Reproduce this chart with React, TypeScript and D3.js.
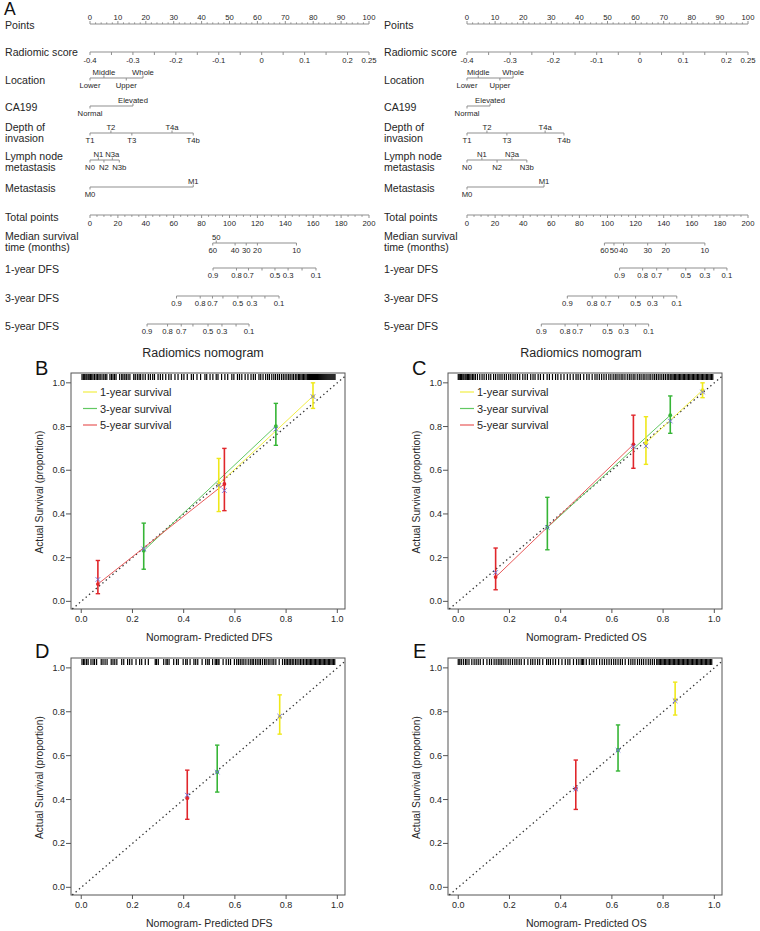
import React from 'react';
import * as d3 from 'd3';

const FONT = '"Liberation Sans", Arial, Helvetica, sans-serif';
const TXT = '#262626';
const AX = '#8f8f8f';

// ---------- Nomogram data ----------
const pointsLabels = [0, 10, 20, 30, 40, 50, 60, 70, 80, 90, 100];
const radiomicLabels = [-0.4, -0.3, -0.2, -0.1, 0, 0.1, 0.2, 0.25];
const totalLabels = [0, 20, 40, 60, 80, 100, 120, 140, 160, 180, 200];

const locationLevels = ['Lower', 'Middle', 'Upper', 'Whole'];
const locationPtsA = [0, 5, 13, 19];
const locationPtsB = [0, 4, 11.7, 16.4];
const ca199Levels = ['Normal', 'Elevated'];
const ca199PtsA = [0, 15.4];
const ca199PtsB = [0, 8.2];
const depthLevels = ['T1', 'T2', 'T3', 'T4a', 'T4b'];
const depthPtsA = [0, 7.5, 15, 29.4, 37];
const depthPtsB = [0, 7.1, 14.2, 27.8, 34.5];
const lymphLevels = ['N0', 'N1', 'N2', 'N3a', 'N3b'];
const lymphPtsA = [0, 3, 5, 8, 10.5];
const lymphPtsB = [0, 5.3, 10.7, 16, 21.3];
const metLevels = ['M0', 'M1'];
const metPtsA = [0, 37];
const metPtsB = [0, 27.4];

const medianLabels = ['60', '50', '40', '30', '20', '10'];
const medianTotA = [88, 90.5, 104, 112, 120, 148];
const medianTotB = [97.8, 104.6, 111.4, 128.6, 141.4, 169.3];
const medianAboveA = [false, true, false, false, false, false];
const medianAboveB = [false, false, false, false, false, false];

const dfsLabels = ['0.9', '0.8', '0.7', '0.6', '0.5', '0.3', '0.2', '0.1'];
const dfsShown = [true, true, true, false, true, true, false, true];
const dfs1TotA = [88.2, 105, 113.6, 123.3, 132.6, 142, 152, 162];
const dfs3TotA = [62, 79, 87.8, 95.3, 106, 116, 125.4, 135.5];
const dfs5TotA = [40.9, 55.6, 65.4, 73.8, 84.6, 94.6, 104.7, 114];
const dfs1TotB = [108.6, 125, 135, 143, 155.7, 169.3, 175.7, 185];
const dfs3TotB = [71.4, 89.1, 98.8, 107.9, 120, 132, 140, 149.3];
const dfs5TotB = [52.9, 69.8, 78.8, 87.9, 100, 111.4, 120, 129.3];

// ---------- Calibration data: [predicted, observed, lower, upper, corrected] ----------
const calB_1yr = [[0.537, 0.536, 0.411, 0.654, 0.531], [0.905, 0.939, 0.883, 1.0, 0.937]];
const calB_3yr = [[0.244, 0.232, 0.147, 0.358, 0.24], [0.76, 0.802, 0.714, 0.906, 0.788]];
const calB_5yr = [[0.065, 0.079, 0.035, 0.187, 0.1], [0.559, 0.537, 0.415, 0.7, 0.507]];
const calC_1yr = [[0.733, 0.725, 0.627, 0.845, 0.711], [0.954, 0.966, 0.932, 1.0, 0.958]];
const calC_3yr = [[0.348, 0.338, 0.236, 0.476, 0.338], [0.828, 0.852, 0.769, 0.94, 0.825]];
const calC_5yr = [[0.146, 0.111, 0.053, 0.244, 0.132], [0.684, 0.718, 0.609, 0.852, 0.708]];
const calD_1yr = [[0.775, 0.776, 0.698, 0.877, 0.78]];
const calD_3yr = [[0.531, 0.525, 0.434, 0.648, 0.525]];
const calD_5yr = [[0.414, 0.406, 0.31, 0.534, 0.42]];
const calE_1yr = [[0.847, 0.855, 0.785, 0.935, 0.85]];
const calE_3yr = [[0.624, 0.627, 0.53, 0.74, 0.625]];
const calE_5yr = [[0.459, 0.45, 0.355, 0.58, 0.448]];

const calTicks = [0, 0.2, 0.4, 0.6, 0.8, 1.0];
const legendLabels = ['1-year survival', '3-year survival', '5-year survival'];

const rugB = [0.003,0.008,0.012,0.018,0.022,0.027,0.031,0.036,0.041,0.046,0.052,0.058,0.063,0.069,0.074,0.081,0.088,0.094,0.1,0.112,0.118,0.124,0.13,0.136,0.15,0.158,0.163,0.17,0.176,0.183,0.19,0.205,0.211,0.219,0.226,0.232,0.241,0.25,0.262,0.27,0.279,0.286,0.3,0.309,0.318,0.33,0.342,0.351,0.366,0.378,0.392,0.401,0.414,0.43,0.438,0.452,0.466,0.483,0.49,0.503,0.514,0.527,0.534,0.548,0.561,0.572,0.588,0.596,0.61,0.618,0.627,0.64,0.651,0.663,0.672,0.68,0.694,0.701,0.71,0.72,0.728,0.735,0.744,0.752,0.759,0.767,0.774,0.782,0.789,0.796,0.803,0.81,0.816,0.823,0.829,0.836,0.842,0.848,0.853,0.858,0.863,0.868,0.873,0.878,0.883,0.887,0.891,0.895,0.899,0.903,0.907,0.911,0.915,0.919,0.923,0.927,0.931,0.935,0.939,0.943,0.947,0.951,0.955,0.959,0.963,0.967,0.971,0.975,0.979,0.983,0.987,0.991];
const rugC = [0.0,0.004,0.009,0.013,0.018,0.022,0.027,0.031,0.036,0.04,0.045,0.05,0.056,0.061,0.067,0.075,0.084,0.093,0.101,0.11,0.119,0.127,0.138,0.146,0.155,0.163,0.171,0.18,0.188,0.197,0.205,0.214,0.222,0.231,0.24,0.252,0.261,0.27,0.283,0.292,0.3,0.312,0.321,0.333,0.347,0.356,0.368,0.38,0.389,0.401,0.413,0.426,0.437,0.449,0.46,0.468,0.477,0.49,0.502,0.511,0.523,0.534,0.542,0.551,0.56,0.569,0.578,0.588,0.596,0.605,0.613,0.62,0.628,0.636,0.643,0.651,0.66,0.668,0.675,0.683,0.69,0.699,0.707,0.714,0.722,0.729,0.737,0.745,0.752,0.76,0.767,0.774,0.781,0.788,0.795,0.802,0.809,0.816,0.822,0.828,0.834,0.839,0.844,0.849,0.854,0.859,0.864,0.869,0.874,0.879,0.884,0.889,0.894,0.899,0.904,0.909,0.914,0.919,0.924,0.929,0.934,0.939,0.944,0.949,0.954,0.959,0.964,0.969,0.974,0.979,0.984,0.989,0.994];
const rugD = [0.003,0.009,0.014,0.021,0.027,0.038,0.046,0.052,0.06,0.078,0.085,0.093,0.101,0.117,0.124,0.131,0.139,0.158,0.166,0.181,0.189,0.198,0.214,0.228,0.236,0.25,0.262,0.289,0.294,0.301,0.322,0.331,0.336,0.343,0.361,0.372,0.379,0.398,0.408,0.414,0.425,0.44,0.447,0.455,0.472,0.486,0.494,0.5,0.513,0.523,0.528,0.534,0.538,0.554,0.566,0.575,0.583,0.598,0.607,0.614,0.621,0.628,0.635,0.643,0.652,0.66,0.667,0.672,0.68,0.687,0.694,0.7,0.708,0.716,0.722,0.73,0.737,0.745,0.752,0.76,0.773,0.786,0.794,0.8,0.806,0.812,0.818,0.824,0.83,0.837,0.843,0.85,0.856,0.862,0.868,0.874,0.88,0.885,0.89,0.895,0.9,0.905,0.91,0.915,0.92,0.925,0.93,0.935,0.94,0.945,0.95,0.955,0.96,0.965,0.97,0.975,0.98,0.985,0.99];
const rugE = [0.0,0.006,0.012,0.02,0.028,0.034,0.042,0.053,0.062,0.07,0.078,0.086,0.098,0.112,0.122,0.13,0.14,0.148,0.156,0.163,0.17,0.178,0.186,0.195,0.203,0.212,0.221,0.229,0.238,0.246,0.258,0.272,0.283,0.291,0.3,0.31,0.318,0.33,0.345,0.352,0.36,0.37,0.38,0.392,0.405,0.418,0.428,0.436,0.45,0.462,0.471,0.48,0.485,0.49,0.5,0.512,0.522,0.53,0.54,0.552,0.562,0.571,0.58,0.589,0.598,0.607,0.615,0.624,0.633,0.641,0.652,0.665,0.674,0.682,0.69,0.7,0.708,0.716,0.724,0.733,0.742,0.75,0.758,0.766,0.775,0.78,0.785,0.79,0.795,0.8,0.805,0.81,0.815,0.82,0.825,0.83,0.835,0.84,0.845,0.85,0.855,0.86,0.865,0.87,0.875,0.88,0.885,0.89,0.895,0.9,0.905,0.91,0.915,0.92,0.925,0.93,0.935,0.94,0.945,0.95,0.955,0.96,0.965,0.97,0.975,0.98,0.985,0.99];

const YEL = '#efe81a';
const YEL_L = '#f2ee45';
const GRN = '#36b536';
const GRN_L = '#62c862';
const RED = '#e0262b';
const RED_L = '#e85a5a';
const BLUE = '#6f6fdc';

const TICK_FS = 7.7;
const LAB_FS = 10.6;

function CatAxis({ pts, levels, y, s }: any) {
  const xs = pts.map((p: number) => s(p));
  return (
    <g>
      <line x1={xs[0]} x2={xs[xs.length - 1]} y1={y} y2={y} stroke={AX} />
      {levels.map((lv: string, i: number) => {
        const above = i % 2 === 1;
        return (
          <g key={lv}>
            <line x1={xs[i]} x2={xs[i]} y1={y} y2={above ? y - 2.5 : y + 2.5} stroke={AX} />
            <text x={xs[i]} y={above ? y - 3 : y + 9.5} textAnchor="middle" fontSize={TICK_FS} fill={TXT}>{lv}</text>
          </g>
        );
      })}
    </g>
  );
}

function FunAxis({ tot, labels, shown, above, y, ts }: any) {
  const xs = tot.map((t: number) => ts(t));
  return (
    <g>
      <line x1={xs[0]} x2={xs[xs.length - 1]} y1={y} y2={y} stroke={AX} />
      {labels.map((lb: string, i: number) => {
        const up = above ? above[i] : false;
        return (
          <g key={lb + i}>
            <line x1={xs[i]} x2={xs[i]} y1={y} y2={up ? y - 2.5 : y + 2.5} stroke={AX} />
            {(!shown || shown[i]) && (
              <text x={xs[i]} y={up ? y - 3 : y + 10} textAnchor="middle" fontSize={TICK_FS} fill={TXT}>{lb}</text>
            )}
          </g>
        );
      })}
    </g>
  );
}

function RowLabel({ x, lines, y }: any) {
  return (
    <g>
      {lines.map((t: string, i: number) => (
        <text key={t} x={x} y={y + i * 11} fontSize={LAB_FS} fill={TXT}>{t}</text>
      ))}
    </g>
  );
}

function Nomogram(p: any) {
  const { lx, ax0, ax1 } = p;
  const ps = d3.scaleLinear().domain([0, 100]).range([ax0, ax1]);
  const ts = d3.scaleLinear().domain([0, 200]).range([ax0, ax1]);
  const rs = d3.scaleLinear().domain([-0.4, 0.25]).range([ax0, ax1]);
  const yP = 24, yR = 52, yL = 78, yC = 106, yD = 133, yN = 160, yM = 187, yT = 215, yMed = 243, y1 = 268, y3 = 296, y5 = 324;
  return (
    <g>
      <RowLabel x={lx} lines={['Points']} y={28.5} />
      <RowLabel x={lx} lines={['Radiomic score']} y={56} />
      <RowLabel x={lx} lines={['Location']} y={84} />
      <RowLabel x={lx} lines={['CA199']} y={111} />
      <RowLabel x={lx} lines={['Depth of', 'invasion']} y={131} />
      <RowLabel x={lx} lines={['Lymph node', 'metastasis']} y={159.5} />
      <RowLabel x={lx} lines={['Metastasis']} y={192} />
      <RowLabel x={lx} lines={['Total points']} y={221} />
      <RowLabel x={lx} lines={['Median survival', 'time (months)']} y={240} />
      <RowLabel x={lx} lines={['1-year DFS']} y={273} />
      <RowLabel x={lx} lines={['3-year DFS']} y={302} />
      <RowLabel x={lx} lines={['5-year DFS']} y={330} />

      {/* Points axis */}
      <line x1={ps(0)} x2={ps(100)} y1={yP} y2={yP} stroke={AX} />
      {ps.ticks(50).map((t) => (
        <line key={'pm' + t} x1={ps(t)} x2={ps(t)} y1={yP} y2={t % 10 === 0 ? yP - 3 : yP - 1.6} stroke={AX} />
      ))}
      {pointsLabels.map((t) => (
        <text key={'pl' + t} x={ps(t)} y={yP - 4.5} textAnchor="middle" fontSize={TICK_FS} fill={TXT}>{t}</text>
      ))}

      {/* Radiomic score */}
      <line x1={rs(-0.4)} x2={rs(0.25)} y1={yR} y2={yR} stroke={AX} />
      {rs.ticks(13).map((t) => (
        <line key={'rm' + t} x1={rs(t)} x2={rs(t)} y1={yR} y2={yR + 3} stroke={AX} />
      ))}
      {radiomicLabels.map((t) => (
        <text key={'rl' + t} x={rs(t)} y={yR + 10.5} textAnchor="middle" fontSize={TICK_FS} fill={TXT}>{t === 0 ? '0' : String(t)}</text>
      ))}

      <CatAxis pts={p.locPts} levels={locationLevels} y={yL} s={ps} />
      <CatAxis pts={p.caPts} levels={ca199Levels} y={yC} s={ps} />
      <CatAxis pts={p.depthPts} levels={depthLevels} y={yD} s={ps} />
      <CatAxis pts={p.lymphPts} levels={lymphLevels} y={yN} s={ps} />
      <CatAxis pts={p.metPts} levels={metLevels} y={yM} s={ps} />

      {/* Total points */}
      <line x1={ts(0)} x2={ts(200)} y1={yT} y2={yT} stroke={AX} />
      {ts.ticks(40).map((t) => (
        <line key={'tm' + t} x1={ts(t)} x2={ts(t)} y1={yT} y2={t % 20 === 0 ? yT + 3 : yT + 1.8} stroke={AX} />
      ))}
      {totalLabels.map((t) => (
        <text key={'tl' + t} x={ts(t)} y={yT + 10.5} textAnchor="middle" fontSize={TICK_FS} fill={TXT}>{t}</text>
      ))}

      <FunAxis tot={p.medTot} labels={medianLabels} above={p.medAbove} y={yMed} ts={ts} />
      <FunAxis tot={p.d1} labels={dfsLabels} shown={dfsShown} y={y1} ts={ts} />
      <FunAxis tot={p.d3} labels={dfsLabels} shown={dfsShown} y={y3} ts={ts} />
      <FunAxis tot={p.d5} labels={dfsLabels} shown={dfsShown} y={y5} ts={ts} />
    </g>
  );
}

function Calib(p: any) {
  const [x0, y0, x1, y1] = p.box;
  const xs = d3.scaleLinear().domain([-0.04, 1.03]).range([x0, x1]);
  const ys = d3.scaleLinear().domain([-0.035, 1.045]).range([y1, y0]);
  const series = [
    { d: p.s1, c: YEL, lc: YEL_L },
    { d: p.s3, c: GRN, lc: GRN_L },
    { d: p.s5, c: RED, lc: RED_L },
  ];
  const line = d3.line<number[]>().x((d) => xs(d[0])).y((d) => ys(d[1]));
  const cx = (xs(0) + xs(1)) / 2;
  const cy = (ys(0) + ys(1)) / 2;
  const ylx = x0 - 32;
  return (
    <g>
      {p.title && (
        <text x={p.titleX} y={357} textAnchor="middle" fontSize={12.5} fill={TXT}>{p.title}</text>
      )}
      <text x={p.letterPos[0]} y={p.letterPos[1]} fontSize={20} fill="#111">{p.letter}</text>
      <rect x={x0} y={y0} width={x1 - x0} height={y1 - y0} fill="none" stroke="#555" strokeWidth={1} />
      {p.rug.map((v: number, i: number) => (
        <line key={'r' + i} x1={xs(v)} x2={xs(v)} y1={y0 + 1} y2={y0 + 7} stroke="#000" strokeWidth={1.2} />
      ))}
      <line x1={xs(-0.035)} y1={ys(-0.035)} x2={xs(1.03)} y2={ys(1.03)} stroke="#333" strokeWidth={1.3} strokeDasharray="1.4,3" />
      {series.map((s, k) => s.d.length > 1 && (
        <path key={'ln' + k} d={line(s.d) || ''} fill="none" stroke={s.lc} strokeWidth={1} />
      ))}
      {series.map((s, k) => s.d.map((r: number[], i: number) => (
        <g key={'eb' + k + '-' + i}>
          <line x1={xs(r[0])} x2={xs(r[0])} y1={ys(r[2])} y2={ys(r[3])} stroke={s.c} strokeWidth={1.6} />
          <line x1={xs(r[0]) - 2.2} x2={xs(r[0]) + 2.2} y1={ys(r[2])} y2={ys(r[2])} stroke={s.c} strokeWidth={1.4} />
          <line x1={xs(r[0]) - 2.2} x2={xs(r[0]) + 2.2} y1={ys(r[3])} y2={ys(r[3])} stroke={s.c} strokeWidth={1.4} />
          <circle cx={xs(r[0])} cy={ys(r[1])} r={1.9} fill={s.c} />
        </g>
      )))}
      {series.map((s, k) => s.d.map((r: number[], i: number) => {
        const X = xs(r[0]), Y = ys(r[4]);
        return (
          <g key={'x' + k + '-' + i} stroke={BLUE} strokeWidth={0.9}>
            <line x1={X - 2.3} x2={X + 2.3} y1={Y - 2.3} y2={Y + 2.3} />
            <line x1={X - 2.3} x2={X + 2.3} y1={Y + 2.3} y2={Y - 2.3} />
          </g>
        );
      }))}
      {calTicks.map((t) => (
        <g key={'yt' + t}>
          <line x1={x0} x2={x0 - 5} y1={ys(t)} y2={ys(t)} stroke="#555" />
          <text x={x0 - 6} y={ys(t) + 3} textAnchor="end" fontSize={9} fill={TXT}>{t.toFixed(1)}</text>
        </g>
      ))}
      {calTicks.map((t) => (
        <g key={'xt' + t}>
          <line x1={xs(t)} x2={xs(t)} y1={y1} y2={y1 + 4} stroke="#555" />
          <text x={xs(t)} y={y1 + 13} textAnchor="middle" fontSize={9} fill={TXT}>{t.toFixed(1)}</text>
        </g>
      ))}
      <text transform={`translate(${ylx + 3.5},${cy}) rotate(-90)`} textAnchor="middle" fontSize={10.2} fill={TXT}>Actual Survival (proportion)</text>
      <text x={cx} y={y1 + 32} textAnchor="middle" fontSize={10.5} fill={TXT}>{p.xlabel}</text>
      {p.legend && legendLabels.map((lb, i) => {
        const ly = y0 + 19 + i * 16.5;
        const lxs = x0 + 12;
        return (
          <g key={lb}>
            <line x1={lxs} x2={lxs + 14} y1={ly} y2={ly} stroke={series[i].lc} strokeWidth={1.2} />
            <text x={lxs + 17} y={ly + 4} fontSize={11} fill={TXT}>{lb}</text>
          </g>
        );
      })}
    </g>
  );
}

export default function App() {
  return (
    <div style={{ position: 'absolute', left: 0, top: 0, width: 760, height: 931, background: '#fff' }}>
      <svg width={760} height={931} style={{ display: 'block' }} fontFamily={FONT}>
        <rect width={760} height={931} fill="#fff" />
        <text x={4} y={14.5} fontSize={17.5} fill="#111">A</text>
        <Nomogram lx={5} ax0={90} ax1={369}
          locPts={locationPtsA} caPts={ca199PtsA} depthPts={depthPtsA} lymphPts={lymphPtsA} metPts={metPtsA}
          medTot={medianTotA} medAbove={medianAboveA} d1={dfs1TotA} d3={dfs3TotA} d5={dfs5TotA} />
        <Nomogram lx={384} ax0={467} ax1={748}
          locPts={locationPtsB} caPts={ca199PtsB} depthPts={depthPtsB} lymphPts={lymphPtsB} metPts={metPtsB}
          medTot={medianTotB} medAbove={medianAboveB} d1={dfs1TotB} d3={dfs3TotB} d5={dfs5TotB} />
        <Calib box={[71, 373, 345, 609]} letter="B" letterPos={[35, 375]} title="Radiomics nomogram" titleX={203}
          xlabel="Nomogram- Predicted DFS" s1={calB_1yr} s3={calB_3yr} s5={calB_5yr} rug={rugB} legend />
        <Calib box={[448, 373, 722, 609]} letter="C" letterPos={[412, 375]} title="Radiomics nomogram" titleX={581}
          xlabel="Nomogram- Predicted OS" s1={calC_1yr} s3={calC_3yr} s5={calC_5yr} rug={rugC} legend />
        <Calib box={[71, 658, 345, 895]} letter="D" letterPos={[35, 658]}
          xlabel="Nomogram- Predicted DFS" s1={calD_1yr} s3={calD_3yr} s5={calD_5yr} rug={rugD} />
        <Calib box={[448, 658, 722, 895]} letter="E" letterPos={[413, 658]}
          xlabel="Nomogram- Predicted OS" s1={calE_1yr} s3={calE_3yr} s5={calE_5yr} rug={rugE} />
      </svg>
    </div>
  );
}
